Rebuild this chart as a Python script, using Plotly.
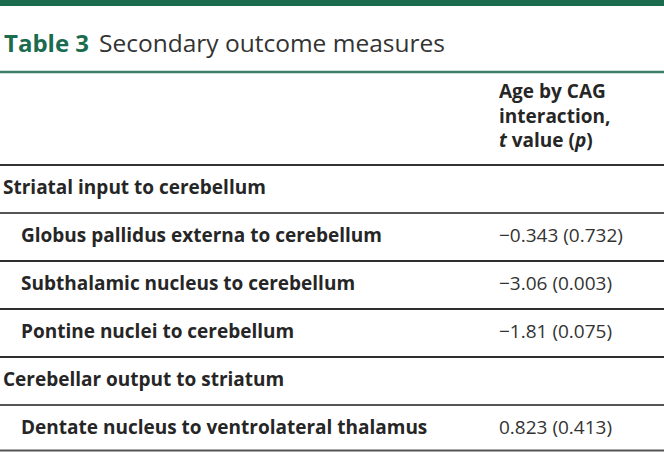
import plotly.graph_objects as go

# ---- data ----
table_number = "Table 3"
table_title = "Secondary outcome measures"
header_lines = ["Age by CAG", "interaction,", "<i>t</i> value (<i>p</i>)"]
row_labels = [
    "Striatal input to cerebellum",
    "Globus pallidus externa to cerebellum",
    "Subthalamic nucleus to cerebellum",
    "Pontine nuclei to cerebellum",
    "Cerebellar output to striatum",
    "Dentate nucleus to ventrolateral thalamus",
]
row_is_section = [True, False, False, False, True, False]
t_values = ["", "−0.343", "−3.06", "−1.81", "", "0.823"]
p_values = ["", "0.732", "0.003", "0.075", "", "0.413"]

W, H = 664, 452
FONT = "Open Sans"
GREEN = "#1b6c4e"
TXT = "#262626"

fig = go.Figure()
fig.add_trace(go.Scatter(x=[0, W], y=[0, H], mode="markers",
                         marker=dict(opacity=0), hoverinfo="skip", showlegend=False))

shapes = []
ann = []

# top bar
shapes.append(dict(type="rect", xref="x", yref="y", x0=0, x1=W, y0=0, y1=6,
                   fillcolor=GREEN, line=dict(width=0), layer="above"))
# title
ann.append(dict(x=2, y=42, text=table_number, xanchor="left", yanchor="middle",
                showarrow=False, font=dict(family=FONT, size=24, color=GREEN, weight=700)))
ann.append(dict(x=97, y=42, text=table_title, xanchor="left", yanchor="middle",
                showarrow=False, font=dict(family=FONT, size=24.5, color="#333333")))
# green rule under title
shapes.append(dict(type="line", xref="x", yref="y", x0=0, x1=W, y0=72, y1=72,
                   line=dict(color="#3a8068", width=2.5)))

# header
hy0, hdy = 91, 24.5
for i, t in enumerate(header_lines):
    ann.append(dict(x=497, y=hy0 + i * hdy, text=t, xanchor="left",
                    yanchor="middle", showarrow=False,
                    font=dict(family=FONT, size=19, color=TXT, weight=700)))
shapes.append(dict(type="line", xref="x", yref="y", x0=0, x1=W, y0=165, y1=165,
                   line=dict(color="#333333", width=2)))

# rows
row_top = 165
row_h = 48
for i, lab in enumerate(row_labels):
    yc = row_top + row_h * i + row_h / 2 - 2
    xl = 1 if row_is_section[i] else 19
    ann.append(dict(x=xl, y=yc, text=lab, xanchor="left", yanchor="middle",
                    showarrow=False, font=dict(family=FONT, size=19, color=TXT, weight=700)))
    if t_values[i]:
        ann.append(dict(x=497, y=yc, text=f"{t_values[i]} ({p_values[i]})", xanchor="left",
                        yanchor="middle", showarrow=False,
                        font=dict(family=FONT, size=19, color="#333333")))
    yb = row_top + row_h * (i + 1)
    if i == len(row_labels) - 1:
        yb = H - 1.5
    col = "#555555" if (row_is_section[i] or i == len(row_labels) - 1) else "#2e2e2e"
    shapes.append(dict(type="line", xref="x", yref="y", x0=0, x1=W, y0=yb, y1=yb,
                       line=dict(color=col, width=2)))

fig.update_layout(
    width=W, height=H,
    margin=dict(l=0, r=0, t=0, b=0),
    paper_bgcolor="white", plot_bgcolor="white",
    xaxis=dict(range=[0, W], visible=False, fixedrange=True),
    yaxis=dict(range=[H, 0], visible=False, fixedrange=True),
    shapes=shapes, annotations=ann, showlegend=False,
)
fig.write_html("out.html", config={"displayModeBar": False},
               post_script="document.body.style.margin='0';document.body.style.overflow='hidden';")
